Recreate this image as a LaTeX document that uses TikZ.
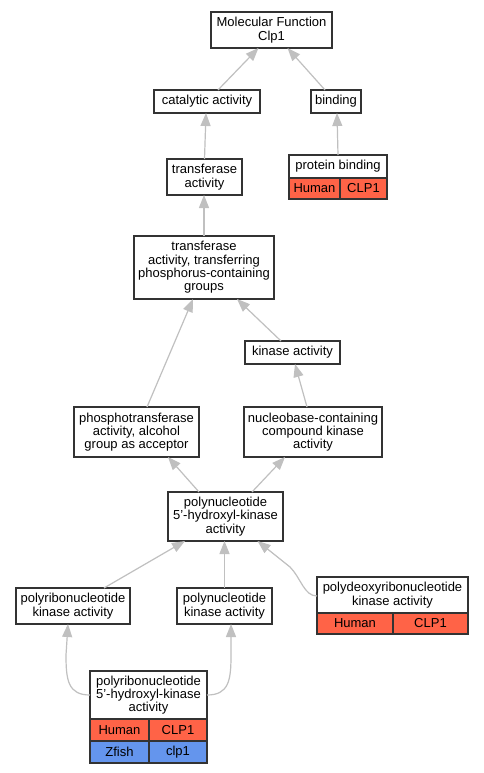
\documentclass[tikz,border=0pt]{standalone}
\usepackage{fontspec}
\setmainfont{Liberation Sans}
\usetikzlibrary{arrows.meta}
\definecolor{edgegray}{HTML}{C0C0C0}
\definecolor{boxline}{HTML}{333333}
\definecolor{humanred}{HTML}{FF6347}
\definecolor{fishblue}{HTML}{6495ED}
\tikzset{
  term/.style={draw=boxline, line width=1.3pt, fill=white, inner sep=0pt, outer sep=0pt,
    align=center, font=\fontsize{13}{13.3}\selectfont},
  hcell/.style={term, fill=humanred},
  zcell/.style={term, fill=fishblue},
  edge/.style={draw=edgegray, line width=1.2pt, -{Triangle[length=13pt,width=10pt]}},
}
\begin{document}
\begin{tikzpicture}[x=1pt,y=-1pt]
\fill[white] (0,0) rectangle (483,773);
\useasboundingbox (0,0) rectangle (483,773);
% nodes
\node[term, minimum width=121pt, minimum height=36pt] (mf) at (271.5,30) {Molecular Function\\Clp1};
\node[term, minimum width=106pt, minimum height=23pt] (cat) at (207,101.5) {catalytic activity};
\node[term, minimum width=50pt, minimum height=23pt] (bind) at (336,101.5) {binding};
\node[term, minimum width=75pt, minimum height=36pt] (tr) at (204.5,177) {transferase\\activity};
\node[term, minimum width=98pt, minimum height=23pt] (pb) at (338,166.5) {protein binding};
\node[hcell, minimum width=51pt, minimum height=21pt] (pbh) at (314.5,188.5) {Human};
\node[hcell, minimum width=47pt, minimum height=21pt] (pbg) at (363.5,188.5) {CLP1};
\node[term, minimum width=140pt, minimum height=63pt] (tp) at (204,267.5) {transferase\\activity, transferring\\phosphorus-containing\\groups};
\node[term, minimum width=95pt, minimum height=23pt] (ka) at (292.5,352.5) {kinase activity};
\node[term, minimum width=125pt, minimum height=50pt] (pt) at (136.5,432) {phosphotransferase\\activity, alcohol\\group as acceptor};
\node[term, minimum width=138pt, minimum height=50pt] (nb) at (313,432) {nucleobase-containing\\compound kinase\\activity};
\node[term, minimum width=115pt, minimum height=49pt] (p5) at (225.5,516.5) {polynucleotide\\5'-hydroxyl-kinase\\activity};
\node[term, minimum width=114pt, minimum height=36pt] (prk) at (73,606) {polyribonucleotide\\kinase activity};
\node[term, minimum width=95pt, minimum height=36pt] (pnk) at (224.5,606) {polynucleotide\\kinase activity};
\node[term, minimum width=151pt, minimum height=36pt] (pd) at (392.5,595) {polydeoxyribonucleotide\\kinase activity};
\node[hcell, minimum width=76pt, minimum height=21pt] (pdh) at (355,623.5) {Human};
\node[hcell, minimum width=75pt, minimum height=21pt] (pdg) at (430.5,623.5) {CLP1};
\node[term, minimum width=117pt, minimum height=48pt] (pr) at (148.5,695) {polyribonucleotide\\5'-hydroxyl-kinase\\activity};
\node[hcell, minimum width=59pt, minimum height=22pt] (prh) at (119.5,730) {Human};
\node[hcell, minimum width=58pt, minimum height=22pt] (prg) at (178,730) {CLP1};
\node[zcell, minimum width=59pt, minimum height=22pt] (prz) at (119.5,752) {Zfish};
\node[zcell, minimum width=58pt, minimum height=22pt] (prc) at (178,752) {clp1};
% edges
\draw[edge] ([xshift=11pt]cat.north) -- ([xshift=-13pt]mf.south);
\draw[edge] ([xshift=-11pt]bind.north) -- ([xshift=16pt]mf.south);
\draw[edge] (tr.north) -- ([xshift=-1pt]cat.south);
\draw[edge] (pb.north) -- ([xshift=1pt]bind.south);
\draw[edge] (tp.north) -- (tp.north |- tr.south);
\draw[edge] ([xshift=10.5pt]pt.north) -- ([xshift=-11pt]tp.south);
\draw[edge] ([xshift=-11.5pt]ka.north) -- ([xshift=33pt]tp.south);
\draw[edge] ([xshift=-6pt]nb.north) -- ([xshift=2.5pt]ka.south);
\draw[edge] ([xshift=-26.5pt]p5.north) -- ([xshift=31.5pt]pt.south);
\draw[edge] ([xshift=26.5pt]p5.north) -- ([xshift=-28pt]nb.south);
\draw[edge] ([xshift=31pt]prk.north) -- ([xshift=-40.5pt]p5.south);
\draw[edge] (pnk.north) -- (pnk.north |- p5.south);
\draw[edge] ([yshift=-1pt]pd.west) .. controls (304,596) and (301,578) .. (290,567) -- ([xshift=32pt]p5.south);
\draw[edge] (pr.west) .. controls (68,695) and (66,680) .. (66,655) -- ([xshift=-5pt]prk.south);
\draw[edge] (pr.east) .. controls (229,695) and (231,680) .. (231,655) -- ([xshift=6.5pt]pnk.south);
\end{tikzpicture}
\end{document}
